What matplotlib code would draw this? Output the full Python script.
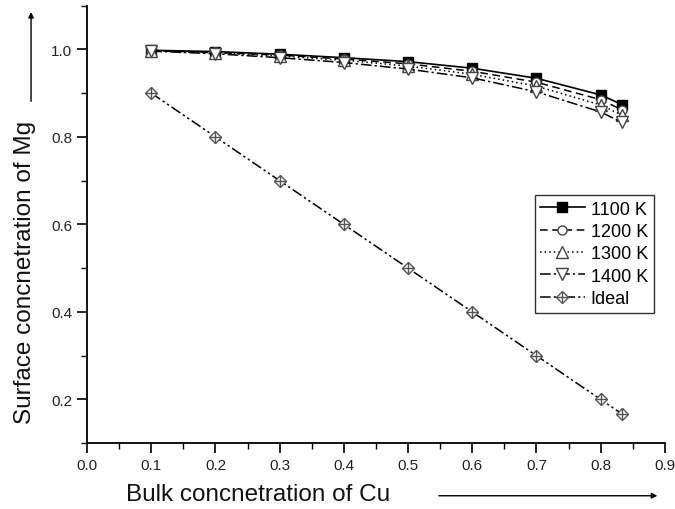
import matplotlib.pyplot as plt
from matplotlib.patches import FancyArrowPatch
from matplotlib.legend_handler import HandlerTuple

plt.rcParams['font.family'] = ['Liberation Sans', 'DejaVu Sans']

# data
bulk_cu = [0.1, 0.2, 0.3, 0.4, 0.5, 0.6, 0.7, 0.8, 0.833]
surf_1100 = [0.998, 0.995, 0.989, 0.981, 0.972, 0.957, 0.934, 0.896, 0.874]
surf_1200 = [0.997, 0.993, 0.987, 0.978, 0.967, 0.950, 0.925, 0.885, 0.862]
surf_1300 = [0.997, 0.992, 0.985, 0.975, 0.962, 0.943, 0.916, 0.873, 0.850]
surf_1400 = [0.996, 0.990, 0.981, 0.970, 0.955, 0.935, 0.903, 0.857, 0.833]
surf_ideal = [0.9, 0.8, 0.7, 0.6, 0.5, 0.4, 0.3, 0.2, 0.167]
labels = ['1100 K', '1200 K', '1300 K', '1400 K', 'Ideal']

fig = plt.figure(figsize=(6.75, 5.1), dpi=100)
ax = fig.add_axes([0.129, 0.129, 0.856, 0.858])

ms = 6.5
h1, = ax.plot(bulk_cu, surf_1100, '-', color='black', lw=1.2, marker='s',
              ms=ms, mfc='black', mec='black')
h2, = ax.plot(bulk_cu, surf_1200, color='black', lw=1.1, ls=(0, (5, 3)),
              marker='o', ms=ms, mfc='white', mec='#444444')
h3, = ax.plot(bulk_cu, surf_1300, color='black', lw=1.1, ls=(0, (1, 2)),
              marker='^', ms=ms + 1.5, mfc='white', mec='#444444')
h4, = ax.plot(bulk_cu, surf_1400, color='black', lw=1.1, ls=(0, (7, 2, 1.5, 2)),
              marker='v', ms=ms + 1.5, mfc='white', mec='#444444')
h5, = ax.plot(bulk_cu, surf_ideal, color='black', lw=1.1,
              ls=(0, (7, 2, 1.5, 2, 1.5, 2)),
              marker='D', ms=ms, mfc='white', mec='#555555')
h5b, = ax.plot(bulk_cu, surf_ideal, ls='none', marker='+', ms=ms + 1.5,
               mec='#555555', mew=1.0)

leg = ax.legend([h1, h2, h3, h4, (h5, h5b)], labels,
                handler_map={tuple: HandlerTuple(ndivide=1, pad=0)},
                loc='upper left', bbox_to_anchor=(0.775, 0.567),
                frameon=True, fancybox=False, edgecolor='black',
                fontsize=13, handlelength=2.45, handletextpad=0.35,
                labelspacing=0.3, borderpad=0.3, borderaxespad=0)
leg.get_frame().set_linewidth(1.0)

ax.set_xlim(0, 0.9)
ax.set_ylim(0.1, 1.1)
ax.set_xticks([0.0, 0.1, 0.2, 0.3, 0.4, 0.5, 0.6, 0.7, 0.8, 0.9])
ax.set_xticks([0.05, 0.15, 0.25, 0.35, 0.45, 0.55, 0.65, 0.75, 0.85], minor=True)
ax.set_yticks([0.2, 0.4, 0.6, 0.8, 1.0])
ax.set_yticks([0.1, 0.3, 0.5, 0.7, 0.9, 1.1], minor=True)
ax.set_xticklabels(['0.0', '0.1', '0.2', '0.3', '0.4', '0.5', '0.6', '0.7', '0.8', '0.9'])
ax.set_yticklabels(['0.2', '0.4', '0.6', '0.8', '1.0'])
ax.tick_params(which='major', direction='out', length=7, width=1.2,
               labelsize=11, color='black', labelcolor='#222222')
ax.tick_params(which='minor', direction='out', length=4.5, width=1.0)

for s in ['top', 'right']:
    ax.spines[s].set_visible(False)
for s in ['left', 'bottom']:
    ax.spines[s].set_linewidth(1.3)

fig.text(0.187, 0.029, 'Bulk concnetration of Cu', fontsize=17.5, ha='left',
         va='center', color='#111111')
fig.text(0.037, 0.465, 'Surface concnetration of Mg', fontsize=17.5,
         rotation=90, ha='center', va='center', color='#111111')

arrow = dict(arrowstyle='-|>', color='black', lw=1.0, mutation_scale=8)
fig.add_artist(FancyArrowPatch((0.646, 0.026), (0.978, 0.026),
                               transform=fig.transFigure, **arrow))
fig.add_artist(FancyArrowPatch((0.046, 0.794), (0.046, 0.98),
                               transform=fig.transFigure, **arrow))

fig.savefig('out.png', dpi=100)
